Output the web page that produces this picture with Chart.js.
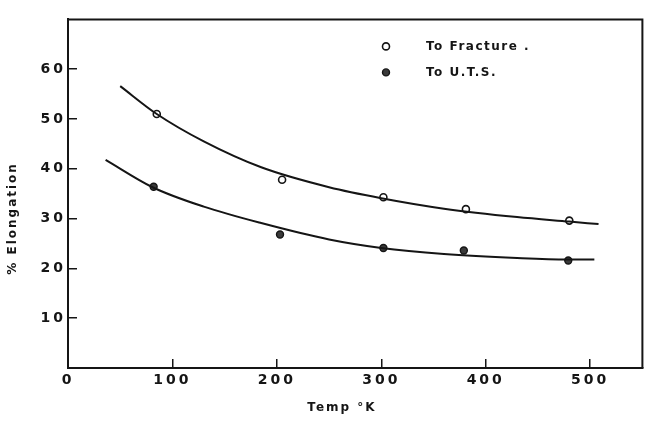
<!DOCTYPE html>
<html>
<head>
<meta charset="utf-8">
<title>% Elongation vs Temp °K</title>
<script src="https://cdn.jsdelivr.net/npm/chart.js@4/dist/chart.umd.min.js"></script>
<style>
  html, body { margin: 0; padding: 0; background: #fff; }
  canvas { display: block; }
</style>
</head>
<body>
<canvas id="elongation" width="648" height="421"></canvas>
<script>
// Measured points
const fractureTemp  = [85, 205, 302, 381, 480];
const fractureElong = [51.0, 37.8, 34.3, 31.9, 29.6];
const utsTemp       = [82, 203, 302, 379, 479];
const utsElong      = [36.4, 26.8, 24.1, 23.6, 21.6];

// Faired curves drawn through each set of points
const fractureCurveTemp  = [50, 85, 130, 185, 250, 300, 360, 430, 480, 508];
const fractureCurveElong = [56.6, 51.0, 45.5, 40.3, 36.3, 34.1, 32.0, 30.3, 29.4, 28.9];
const utsCurveTemp       = [36, 81, 130, 185, 250, 300, 360, 430, 478, 504];
const utsCurveElong      = [41.8, 36.3, 32.4, 29.1, 25.8, 24.1, 22.9, 22.1, 21.8, 21.8];

// Axis ticks
const tempTicks  = [0, 100, 200, 300, 400, 500];
const elongTicks = [10, 20, 30, 40, 50, 60];

const seriesLabels = ['To Fracture .', 'To U.T.S.'];
const axisTitles = { x: 'Temp °K', y: '% Elongation' };

const ink = '#151515';
const toXY = (xs, ys) => xs.map((x, i) => ({ x, y: ys[i] }));

// Frame, axis titles and key, drawn over the plot
const paperFrame = {
  id: 'paperFrame',
  beforeDraw(chart) {
    chart.ctx.letterSpacing = '3px';
  },
  afterDraw(chart) {
    const { ctx, chartArea: a } = chart;
    ctx.save();
    ctx.strokeStyle = ink;
    ctx.lineWidth = 2;
    ctx.beginPath();
    ctx.moveTo(a.left, a.top);
    ctx.lineTo(a.right, a.top);
    ctx.lineTo(a.right, a.bottom);
    ctx.stroke();

    ctx.fillStyle = ink;
    ctx.textBaseline = 'middle';
    ctx.textAlign = 'center';
    ctx.letterSpacing = '2px';
    ctx.font = 'bold 12px "DejaVu Sans"';
    ctx.fillText(axisTitles.x, a.left + 274, a.bottom + 40);

    ctx.save();
    ctx.translate(a.left - 55, a.top + 199);
    ctx.rotate(-Math.PI / 2);
    ctx.fillText(axisTitles.y, 0, 0);
    ctx.restore();

    // key
    ctx.letterSpacing = '1.5px';
    const rows = [a.top + 27, a.top + 53];
    [2, 3].forEach((di, i) => {
      const ds = chart.data.datasets[di];
      ctx.beginPath();
      ctx.arc(a.left + 318, rows[i], ds.pointRadius, 0, Math.PI * 2);
      ctx.fillStyle = ds.pointBackgroundColor;
      ctx.fill();
      ctx.lineWidth = ds.pointBorderWidth;
      ctx.strokeStyle = ds.pointBorderColor;
      ctx.stroke();
      ctx.fillStyle = ink;
      ctx.textAlign = 'left';
      ctx.fillText(ds.label, a.left + 358, rows[i]);
    });
    ctx.restore();
  }
};

const curveStyle = {
  showLine: true,
  borderColor: ink,
  borderWidth: 2,
  pointRadius: 0,
  cubicInterpolationMode: 'monotone'
};

const tickFont = { family: 'DejaVu Sans', weight: 'bold', size: 14 };

new Chart(document.getElementById('elongation'), {
  type: 'scatter',
  data: {
    datasets: [
      { label: 'fracture curve', data: toXY(fractureCurveTemp, fractureCurveElong), ...curveStyle },
      { label: 'uts curve', data: toXY(utsCurveTemp, utsCurveElong), ...curveStyle },
      {
        label: seriesLabels[0],
        data: toXY(fractureTemp, fractureElong),
        pointRadius: 3.5,
        pointBackgroundColor: '#ffffff',
        pointBorderColor: ink,
        pointBorderWidth: 1.6
      },
      {
        label: seriesLabels[1],
        data: toXY(utsTemp, utsElong),
        pointRadius: 3.5,
        pointBackgroundColor: '#3a3a3a',
        pointBorderColor: ink,
        pointBorderWidth: 1.4
      }
    ]
  },
  options: {
    responsive: false,
    animation: false,
    events: [],
    layout: { padding: { top: 10, right: 5, left: 0, bottom: 0 } },
    plugins: { legend: { display: false }, tooltip: { enabled: false } },
    scales: {
      x: {
        type: 'linear',
        min: 0,
        max: 550,
        afterBuildTicks: s => { s.ticks = tempTicks.map(v => ({ value: v })); },
        afterFit: s => { s.height = 53; },
        border: { display: true, color: ink, width: 2 },
        grid: { display: true, drawOnChartArea: false, drawTicks: true, tickLength: -9, color: ink, lineWidth: 1.5 },
        ticks: { color: ink, padding: 13, maxRotation: 0, font: tickFont }
      },
      y: {
        type: 'linear',
        min: 0,
        max: 70,
        afterBuildTicks: s => { s.ticks = elongTicks.map(v => ({ value: v })); },
        afterFit: s => { s.width = 68; },
        border: { display: true, color: ink, width: 2 },
        grid: { display: true, drawOnChartArea: false, drawTicks: true, tickLength: -9, color: ink, lineWidth: 1.5 },
        ticks: { color: ink, padding: 11, font: tickFont }
      }
    }
  },
  plugins: [paperFrame]
});
</script>
</body>
</html>
